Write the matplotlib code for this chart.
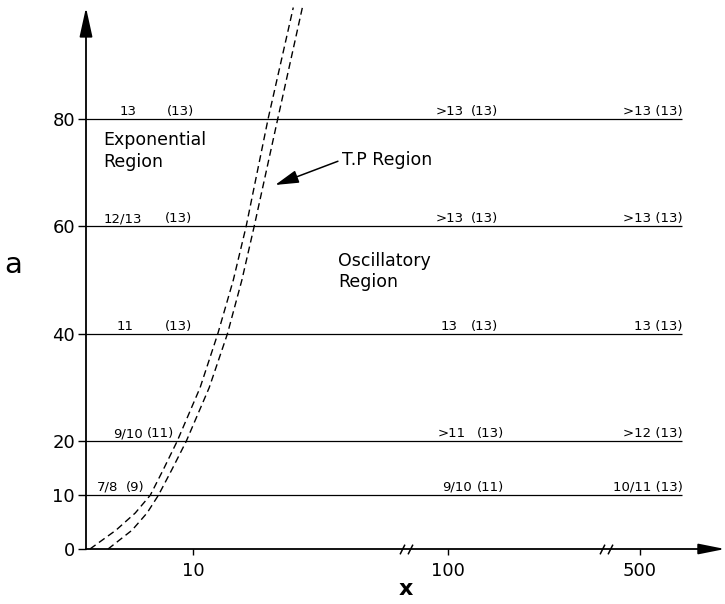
import numpy as np
import matplotlib.pyplot as plt
from matplotlib.path import Path

plt.rcParams['font.family'] = ['DejaVu Sans']

# levels of a with the labels written above each line
a_levels = [10, 20, 40, 60, 80]
low_order = ["7/8", "9/10", "11", "12/13", "13"]
low_paren = ["(9)", "(11)", "(13)", "(13)", "(13)"]
mid_order = ["9/10", ">11", "13", ">13", ">13"]
mid_paren = ["(11)", "(13)", "(13)", "(13)", "(13)"]
high_order = ["10/11", ">12", "13", ">13", ">13"]
high_paren = ["(13)", "(13)", "(13)", "(13)", "(13)"]

# the two dashed curves bounding the T.P region
tp_a = [0, 3.5, 6.7, 10, 14.7, 20, 30, 40, 50, 60, 80, 100.7]
tp_left_x = [0.37, 2.8, 4.6, 6.0, 7.2, 8.5, 10.65, 12.3, 13.75, 14.95, 17.0, 19.35]
tp_right_x = [2.06, 4.3, 5.7, 6.76, 8.0, 9.35, 11.5, 13.2, 14.55, 15.7, 17.9, 20.2]

x_ticks = [10, 100, 500]
y_ticks = [0, 10, 20, 40, 60, 80]

# broken x axis: three linear pieces
seg_x = [0, 29.5, 62, 254, 470, 585]
seg_p = [86, 402, 410, 602, 610, 725]


def fwd(x):
    return np.interp(x, seg_x, seg_p)


def inv(p):
    return np.interp(p, seg_p, seg_x)


def fx(px):
    # pixel column -> axes fraction
    return (px - 86) / 639


fig = plt.figure(figsize=(7.25, 6.04), dpi=100)
ax = fig.add_axes([86 / 725, 55 / 604, 639 / 725, 549 / 604])
ax.set_xscale('function', functions=(fwd, inv))
ax.set_xlim(0, 585)
ax.set_ylim(0, 102.1)
for s in ax.spines.values():
    s.set_visible(False)

# axes with arrow heads
ax.annotate('', xy=(0, 100.7), xytext=(0, 0), xycoords=('axes fraction', 'data'),
            arrowprops=dict(arrowstyle='-|>,head_length=1.0,head_width=0.22', lw=1.3,
                            color='k', shrinkA=0, shrinkB=0, mutation_scale=18),
            annotation_clip=False)
ax.annotate('', xy=(1.0, 0), xytext=(0, 0), xycoords='axes fraction',
            arrowprops=dict(arrowstyle='-|>,head_length=1.0,head_width=0.2', lw=1.3,
                            color='k', shrinkA=0, shrinkB=0, mutation_scale=16),
            annotation_clip=False)

ax.set_xticks(x_ticks)
ax.set_xticklabels([str(v) for v in x_ticks])
ax.set_yticks(y_ticks)
ax.set_yticklabels([str(v) for v in y_ticks])
ax.tick_params(axis='y', direction='out', length=6, width=1, pad=2, labelsize=13)
ax.tick_params(axis='x', direction='out', length=4, width=1, pad=5, labelsize=13)

# break marks on the x axis
slash = Path([(-0.5, -1), (0.5, 1)], [Path.MOVETO, Path.LINETO])
ax.plot([29.5, 62, 254, 470], [0, 0, 0, 0], ls='none', marker=slash, ms=7,
        mec='k', mew=1.1, clip_on=False)

# horizontal lines
ax.hlines(a_levels, 0, 542, colors='k', lw=0.9)

# T.P boundary curves
ax.plot(tp_left_x, tp_a, color='k', lw=1.0, ls=(0, (5, 3)), clip_on=False)
ax.plot(tp_right_x, tp_a, color='k', lw=1.0, ls=(0, (5, 3)), clip_on=False)

# labels above the lines
low_num_px = [108, 128, 125, 123, 128]
low_par_px = [135, 160, 179, 179, 180]
mid_num_px = [457, 452, 449, 450, 450]
mid_par_px = [490, 491, 484, 484, 484]
tr = ax.get_yaxis_transform()
for i, a in enumerate(a_levels):
    y = a + 0.8
    ax.text(fx(low_num_px[i]), y, low_order[i], transform=tr, ha='center', va='baseline', fontsize=9.5)
    ax.text(fx(low_par_px[i]), y, low_paren[i], transform=tr, ha='center', va='baseline', fontsize=9.5)
    ax.text(fx(mid_num_px[i]), y, mid_order[i], transform=tr, ha='center', va='baseline', fontsize=9.5)
    ax.text(fx(mid_par_px[i]), y, mid_paren[i], transform=tr, ha='center', va='baseline', fontsize=9.5)
    ax.text(fx(683), y, high_order[i] + " " + high_paren[i], transform=tr, ha='right',
            va='baseline', fontsize=9.5)

# region labels
ax.text(fx(103), 74.0, "Exponential\nRegion", transform=tr, ha='left', va='center',
        fontsize=12.5, linespacing=1.25)
ax.text(fx(338), 51.6, "Oscillatory\nRegion", transform=tr, ha='left', va='center',
        fontsize=12.5, linespacing=1.2)
ax.annotate("T.P Region", xy=(17.66, 67.7), xytext=(fx(342), 72.4),
            textcoords=('axes fraction', 'data'), ha='left', va='center', fontsize=12.5,
            arrowprops=dict(arrowstyle='-|>,head_length=0.8,head_width=0.22', lw=1.1,
                            color='k', shrinkA=1, shrinkB=0, mutation_scale=18,
                            relpos=(0, 0.5)))

# axis names
ax.text(fx(13), 0.518, "a", transform=ax.transAxes, ha='center', va='center', fontsize=21)
ax.text(fx(406), -0.073, "x", transform=ax.transAxes, ha='center', va='center',
        fontsize=16, fontweight='bold')

fig.savefig('out.png', dpi=100)
